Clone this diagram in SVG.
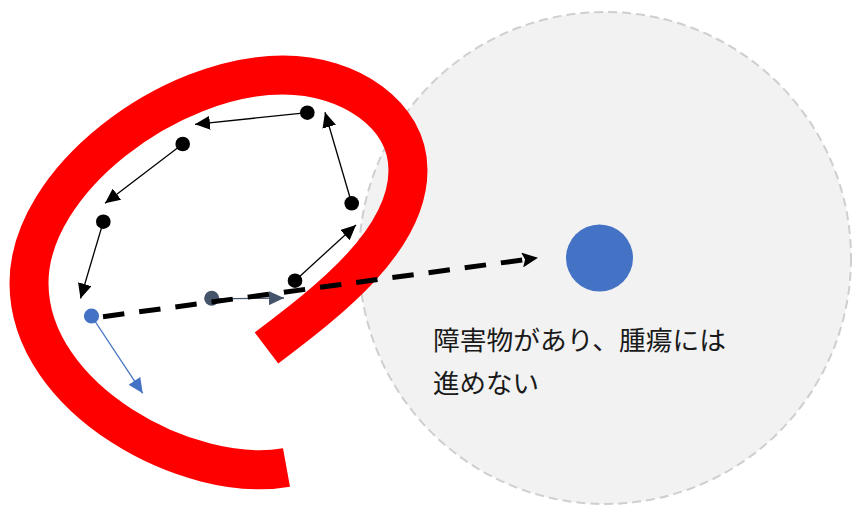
<svg xmlns="http://www.w3.org/2000/svg" width="853" height="505" viewBox="0 0 853 505">
  <style>
    .blk { stroke: #000; stroke-width: 1.3; fill: none; }
    .dotb { fill: #000; }
    .lbl { font-family: "Noto Sans CJK JP", "Noto Sans", sans-serif; font-size: 26px; fill: #1a1a1a; }
  </style>
  <defs>
    <marker id="ah" markerUnits="userSpaceOnUse" markerWidth="15" markerHeight="14" refX="15" refY="7" orient="auto">
      <path d="M0,0 L15,7 L0,14 z" fill="#000"/>
    </marker>
    <marker id="ahBlue" markerUnits="userSpaceOnUse" markerWidth="15" markerHeight="14" refX="15" refY="7" orient="auto">
      <path d="M0,0 L15,7 L0,14 z" fill="#4472c4"/>
    </marker>
    <marker id="ahSlate" markerUnits="userSpaceOnUse" markerWidth="15" markerHeight="14" refX="15" refY="7" orient="auto">
      <path d="M0,0 L15,7 L0,14 z" fill="#44546a"/>
    </marker>
    <marker id="ahDash" markerUnits="userSpaceOnUse" markerWidth="16" markerHeight="15" refX="15" refY="7.5" orient="auto">
      <path d="M0,0 L16,7.5 L0,15 L3,7.5 z" fill="#000"/>
    </marker>
  </defs>

  <g id="obstacle-zone">
    <circle cx="605" cy="258" r="246" fill="#f2f2f2" stroke="#cfcfcf" stroke-width="2" stroke-dasharray="9 5"/>
  </g>

  <g id="barrier">
    <path d="M286.5,467.5 C190,485 29,400 29,283 C29,180 170,75 283,75 C350,75 408,115 408,170 C408,240 330,300 266.5,348" fill="none" stroke="#ff0000" stroke-width="39"/>
  </g>

  <g id="tumor">
    <circle cx="599.5" cy="258" r="33.5" fill="#4472c4"/>
  </g>

  <g id="label">
    <text class="lbl" x="433" y="350" textLength="293" lengthAdjust="spacingAndGlyphs">障害物があり、腫瘍には</text>
    <text class="lbl" x="433" y="393" textLength="106" lengthAdjust="spacingAndGlyphs">進めない</text>
  </g>

  <g id="connectors">
    <line class="blk" x1="307.3" y1="112.7" x2="195" y2="124.3" marker-end="url(#ah)"/>
    <line class="blk" x1="182.7" y1="144" x2="105" y2="203.3" marker-end="url(#ah)"/>
    <line class="blk" x1="103.3" y1="221.7" x2="80.5" y2="298.5" marker-end="url(#ah)"/>
    <line class="blk" x1="351.7" y1="203.3" x2="325" y2="112.3" marker-end="url(#ah)"/>
    <line class="blk" x1="295" y1="280.7" x2="356" y2="225" marker-end="url(#ah)"/>
    <line x1="91.5" y1="316" x2="142.7" y2="393.3" stroke="#4472c4" stroke-width="1.3" marker-end="url(#ahBlue)"/>
    <line x1="211.7" y1="298.8" x2="284" y2="298" stroke="#44546a" stroke-width="1.3" marker-end="url(#ahSlate)"/>
  </g>

  <g id="node-a"><circle class="dotb" cx="307.3" cy="112.7" r="7.3"/></g>
  <g id="node-b"><circle class="dotb" cx="182.7" cy="144" r="7.3"/></g>
  <g id="node-c"><circle class="dotb" cx="103.3" cy="221.7" r="7.3"/></g>
  <g id="node-d"><circle class="dotb" cx="351.7" cy="203.3" r="7.3"/></g>
  <g id="node-e"><circle class="dotb" cx="295" cy="280.7" r="7.3"/></g>
  <g id="node-start"><circle cx="91.5" cy="316" r="7.6" fill="#4472c4"/></g>
  <g id="node-slate"><circle cx="211.7" cy="298.3" r="7.5" fill="#44546a"/></g>

  <g id="dashed-connector">
    <line x1="103" y1="316.7" x2="537" y2="258" stroke="#000" stroke-width="5" stroke-dasharray="21.5 15" marker-end="url(#ahDash)"/>
  </g>
</svg>
